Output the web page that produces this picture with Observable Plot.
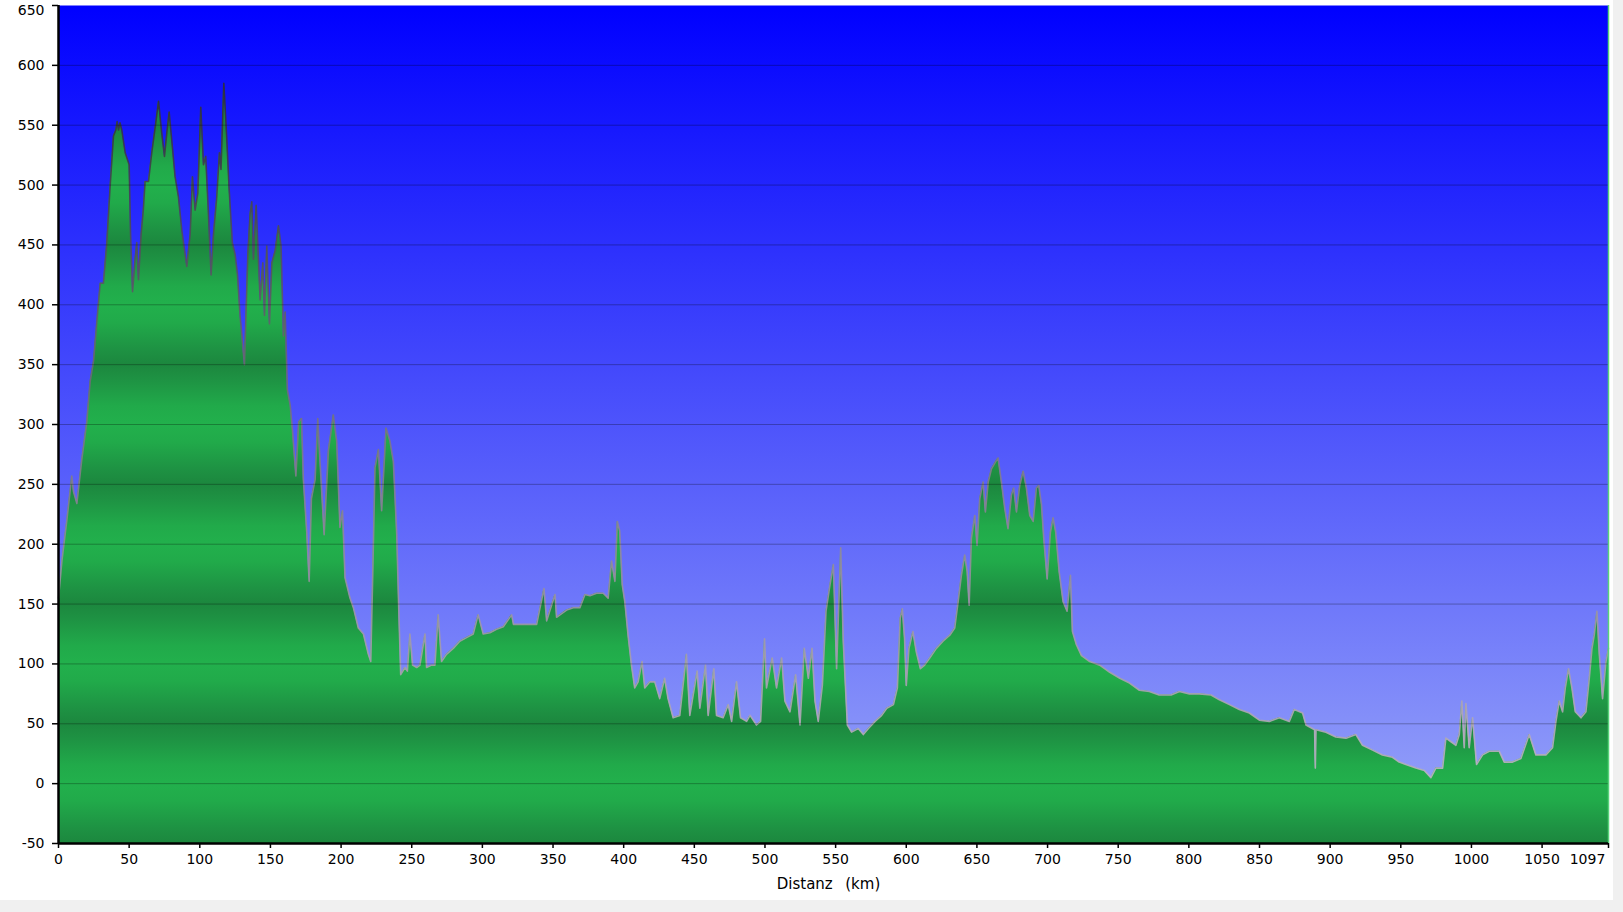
<!DOCTYPE html>
<html>
<head>
<meta charset="utf-8">
<script src="https://cdn.jsdelivr.net/npm/d3@7"></script>
<script src="https://cdn.jsdelivr.net/npm/@observablehq/plot@0.6"></script>
<style>
  html, body { margin: 0; padding: 0; background: #f0f0f0; }
  #wrap { width: 1613px; height: 900px; background: #ffffff; overflow: hidden; }
  svg text { white-space: pre; }
</style>
</head>
<body>
<div id="wrap"></div>
<script>
// Distance along the route (km)
const km = [0,2.4,5.9,9.4,10.6,13,16.5,20,22.4,24.8,27,29.5,31.8,34.2,36.6,38.9,40.6,41.5,42.5,43.5,44.8,47.2,50,51,52.4,54.2,55.4,56.6,58.5,60,61.3,63.7,66,68.4,70.8,73,75,76.7,78.3,80.2,82.5,84.9,87.3,90.8,93.2,94.8,96.7,98.6,100.7,102.6,104.2,106,108,109.7,112,113.9,115,117,119,120.8,123,125,126.7,128.5,131.6,134,135.6,136.8,138,139.9,142.7,144.6,145.8,147.4,149.3,151,153.3,155.7,157.5,159.2,160.4,162,164,165.6,168,170,172,173.3,175.7,177.4,179,181.6,183.5,185,188,191,194.5,196.9,199.2,201,202.8,206.3,208.7,212.2,215.8,219.3,221,222.4,224,226.4,228.7,231.8,234.6,237,239.4,241,242.2,245.2,246.9,248.7,250.6,253.5,255.8,259.4,260.5,264,266.4,268.7,271.1,274.6,279.4,284,288.8,293.5,297,300.6,305.3,310,314.8,320.7,322,326.6,332.5,338.4,343.6,345.5,351.4,352.5,354.9,359.6,364.3,369,372.6,376.1,380.8,385.5,389,391.4,393.8,395.5,397.2,399,400.8,403.1,405.5,407.8,410.2,413,414.9,418.4,422,425.5,429,431.4,435,439.7,444.4,446.8,452,453.9,457.9,459.8,463.8,465.7,470.4,474,476.4,479.9,482.7,487,489.4,494,496.9,499.7,501.1,505.1,508.2,511.8,514.1,517.7,521.7,524.8,527.8,530.7,533.3,535.4,537.7,540.6,543.2,546,548.4,550.7,553.6,555.4,558.3,561.3,566,569.6,573.2,577.9,582.6,586.2,590.9,593.7,595.7,597.2,598.8,600,601.9,604.7,607.1,610,613,616.6,621.3,626,630.8,634.3,636.7,639,641.4,643.1,644.5,646.1,648.5,650.1,652,654.4,656,658,660.3,663.3,665,667.3,669.7,672,674.4,676,678,680.3,682.7,685,687.4,689.8,692.1,693.8,695.7,697.3,699.7,702,703.9,705.8,708.2,711,713.8,716.2,717.6,720.4,724,729.8,736.9,744,751.1,758,765,772,779,787.4,793.3,800.4,807.5,815.7,821.6,828.7,835.7,842.8,849.9,857,864,871.1,874.6,880.5,882.9,889,889.5,890,897,904,911.2,918.2,922.9,930,937,944.1,948.8,953.6,960.7,966.6,971.3,974.8,979.6,981.9,985.5,989,991.4,993.2,994.9,996.1,998.4,1000.8,1003.6,1007.9,1012.6,1019.7,1023.2,1029.1,1035,1040.9,1045.6,1052.7,1057.4,1059.8,1062.1,1064.5,1066.4,1068.7,1071.1,1073.5,1077.5,1081,1083.4,1085.3,1086.9,1088.8,1090.5,1092.8,1095.2,1097];
// Elevation (m)
const elev = [155,186,220,257,244,234,271,302,336,353,384,418,418,452,500,541,546,553,546,552,546,527,517,459,411,438,452,421,459,479,503,503,527,548,570,544,524,544,561,537,507,490,462,432,459,507,479,493,565,517,524,479,425,459,490,527,513,585,541,496,452,442,425,391,350,442,476,486,438,483,404,435,391,449,384,435,445,466,449,374,394,329,316,295,257,302,305,254,210,169,238,254,305,271,208,278,308,286,214,228,172,155,147,130,125,108,102,175,264,279,228,297,286,269,208,138,91,97,94,125,99,97,99,125,97,99,99,141,102,108,113,119,122,125,141,125,126,129,131,141,133,133,133,133,163,136,158,139,141,145,147,147,158,157,159,159,155,186,169,219,211,166,152,124,99,80,85,102,80,85,85,71,88,71,55,57,108,57,94,63,99,57,96,57,55,66,52,85,55,52,57,49,52,121,80,105,80,105,69,60,91,49,113,88,113,69,52,82,144,166,183,96,197,119,49,43,46,41,46,52,57,63,66,80,138,146,121,82,113,127,110,96,99,105,113,119,124,130,152,174,191,177,149,205,224,199,238,252,227,252,263,269,272,252,230,213,241,247,227,249,261,247,224,219,247,249,233,205,171,210,222,210,177,152,144,174,127,116,107,102,99,93,88,84,78,77,74,74,77,75,75,74,70,66,62,59,53,52,55,52,62,59,49,45,13,45,43,39,38,41,32,28,24,22,18,16,13,11,5,13,13,38,35,32,41,69,30,67,30,55,16,24,27,27,18,18,21,41,24,24,30,52,69,60,80,96,80,60,55,60,88,113,124,144,108,71,102,113];

const xTicks = [0,50,100,150,200,250,300,350,400,450,500,550,600,650,700,750,800,850,900,950,1000,1050,1097];
const yTicks = [-50,0,50,100,150,200,250,300,350,400,450,500,550,600,650];
const gridValues = [0,50,100,150,200,250,300,350,400,450,500,550,600];
const xLabel = "Distanz  (km)";

const profile = km.map((d, i) => ({km: d, elev: elev[i]}));

const yTop = yTicks[yTicks.length - 1];
const xEnd = xTicks[xTicks.length - 1];

const chart = Plot.plot({
  width: 1613,
  height: 900,
  marginLeft: 58,
  marginRight: 5,
  marginTop: 5,
  marginBottom: 57,
  style: {fontFamily: "DejaVu Sans", fontSize: "14px", color: "#000", background: "#ffffff", overflow: "visible"},
  x: {domain: [0, 1097]},
  y: {domain: [-50, 650]},
  marks: [
    Plot.frame({fill: "url(#sky)", stroke: null}),
    Plot.areaY(profile, {x: "km", y1: -50, y2: "elev", fill: "url(#greenBands)", curve: "linear"}),
    Plot.line(profile, {x: "km", y: "elev", stroke: "url(#ridge)", strokeWidth: 1.6, strokeOpacity: 0.9}),
    Plot.gridY(gridValues, {stroke: "#000", strokeOpacity: 0.28, strokeWidth: 1}),
    Plot.ruleX([1097], {stroke: "#58d27a", strokeWidth: 1.5}),
    // y axis: ticks + labels (top label nudged down to stay inside, like the reference)
    Plot.axisY(yTicks, {tickSize: 6, tickPadding: 8, stroke: "#000", strokeWidth: 1.5, label: null, fontSize: 14,
      tickFormat: d => d === yTop ? "" : String(d)}),
    Plot.axisY([yTop], {tickSize: 0, tickPadding: 14, dy: 5, label: null, fontSize: 14, tickFormat: d => String(d)}),
    // x axis: ticks + labels (last label nudged left to stay inside)
    Plot.axisX(xTicks, {tickSize: 5, tickPadding: 6, stroke: "#000", strokeWidth: 1.5, fontSize: 14,
      label: xLabel, labelAnchor: "center", labelArrow: "none", labelOffset: 45,
      tickFormat: d => d === xEnd ? "" : String(d)}),
    Plot.axisX([xEnd], {tickSize: 0, tickPadding: 11, dx: -21, label: null, fontSize: 14, tickFormat: d => String(d)}),
    Plot.ruleX([0], {stroke: "#000", strokeWidth: 2.5}),
    Plot.ruleY([-50], {stroke: "#000", strokeWidth: 2.5})
  ]
});

// gradients, positioned through the chart's own y scale
const ys = chart.scale("y");
const ns = "http://www.w3.org/2000/svg";
const defs = document.createElementNS(ns, "defs");
function grad(id, attrs, stops) {
  const g = document.createElementNS(ns, "linearGradient");
  g.setAttribute("id", id);
  for (const [k, v] of Object.entries(attrs)) g.setAttribute(k, v);
  for (const [off, col] of stops) {
    const s = document.createElementNS(ns, "stop");
    s.setAttribute("offset", off);
    s.setAttribute("stop-color", col);
    g.appendChild(s);
  }
  defs.appendChild(g);
}
grad("sky", {x1: 0, y1: 0, x2: 0, y2: 1}, [[0, "#0000ff"], [1, "#9ba8f8"]]);
grad("greenBands", {gradientUnits: "userSpaceOnUse", x1: 0, x2: 0, y1: ys.apply(0), y2: ys.apply(50), spreadMethod: "reflect"},
  [[0, "#22b04c"], [0.3, "#21aa4a"], [0.75, "#1e9243"], [1, "#1c873e"]]);
grad("ridge", {gradientUnits: "userSpaceOnUse", x1: 0, x2: 0, y1: ys.apply(0), y2: ys.apply(600)},
  [[0, "#bdb3c2"], [0.45, "#7f7a8a"], [1, "#2a2a33"]]);
chart.insertBefore(defs, chart.firstChild);

// x-axis title: slightly larger with the reference's wide gap between words
chart.querySelectorAll("text").forEach(t => {
  if (t.textContent === xLabel) {
    t.setAttribute("font-size", "15");
    t.setAttribute("word-spacing", "1.5");
    t.setAttribute("dx", "-5");
  }
});

document.getElementById("wrap").appendChild(chart);
</script>
</body>
</html>
